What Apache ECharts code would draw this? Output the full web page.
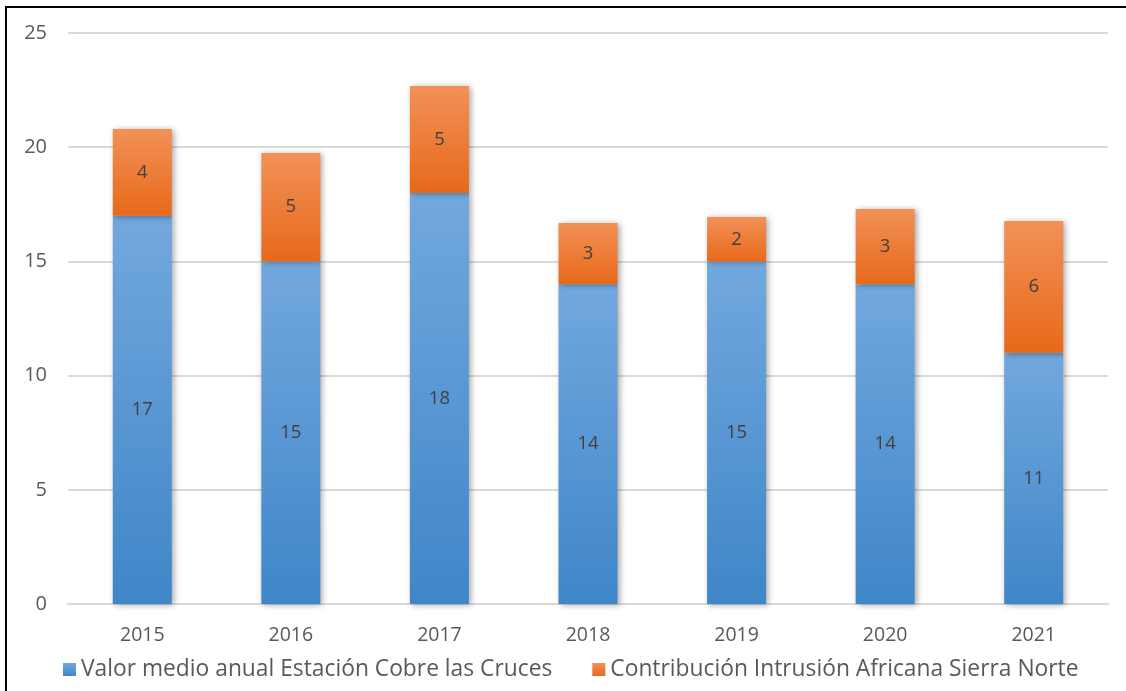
<!DOCTYPE html>
<html><head><meta charset="utf-8">
<script src="https://cdn.jsdelivr.net/npm/echarts@6/dist/echarts.min.js"></script>
<style>
html,body{margin:0;padding:0;background:#fff;}
#frame{position:absolute;left:5px;top:6px;width:1121px;height:685px;border-left:2px solid #000;border-top:2px solid #000;box-sizing:border-box;}
#c{position:absolute;left:0;top:0;width:1126px;height:691px;}
</style></head>
<body>
<div id="frame"></div>
<div id="c"></div>
<script>
const categories = ['2015','2016','2017','2018','2019','2020','2021'];
const blueValues = [17, 15, 18, 14, 15, 14, 11];
const orangeValues = [3.8, 4.75, 4.68, 2.68, 1.94, 3.29, 5.77];
const seriesNames = ['Valor medio anual Estación Cobre las Cruces', 'Contribución Intrusión Africana Sierra Norte'];
const yTicks = [0, 5, 10, 15, 20, 25];

const chart = echarts.init(document.getElementById('c'));
const font = '"Open Sans", "Noto Sans", sans-serif';
const grad = (top, bottom) => new echarts.graphic.LinearGradient(0,0,0,1,[{offset:0,color:top},{offset:1,color:bottom}]);
const labelStyle = {show:true, position:'inside', color:'#404040', fontSize:18.5, fontFamily:font,
  formatter: p => Math.round(p.value)};
chart.setOption({
  animation:false,
  grid:{left:68, right:18, top:33, bottom:87},
  xAxis:{type:'category', data:categories,
    axisLine:{show:true, lineStyle:{color:'#d9d9d9', width:2}}, axisTick:{show:false},
    axisLabel:{color:'#595959', fontSize:19.5, fontFamily:font, margin:21}},
  yAxis:{type:'value', min:yTicks[0], max:yTicks[yTicks.length-1], interval:5,
    axisLine:{show:false}, axisTick:{show:false},
    splitLine:{lineStyle:{color:'#d9d9d9', width:2}},
    axisLabel:{color:'#595959', fontSize:20, fontFamily:font, margin:21}},
  legend:{bottom:5, left:58, itemWidth:13, itemHeight:13, itemGap:40, icon:'rect',
    textStyle:{color:'#595959', fontSize:22.8, fontFamily:font},
    data:seriesNames},
  series:[
    {name:seriesNames[0], type:'bar', stack:'s', data:blueValues, barWidth:59,
     itemStyle:{color:grad('#72a8de','#3f86c8'), shadowColor:'rgba(0,0,0,0.35)', shadowBlur:6, shadowOffsetX:2, shadowOffsetY:1},
     label:labelStyle},
    {name:seriesNames[1], type:'bar', stack:'s', data:orangeValues, barWidth:59,
     itemStyle:{color:grad('#f29157','#e7691a'), shadowColor:'rgba(0,0,0,0.35)', shadowBlur:6, shadowOffsetX:2, shadowOffsetY:1},
     label:labelStyle}
  ]
});
</script>
</body></html>
